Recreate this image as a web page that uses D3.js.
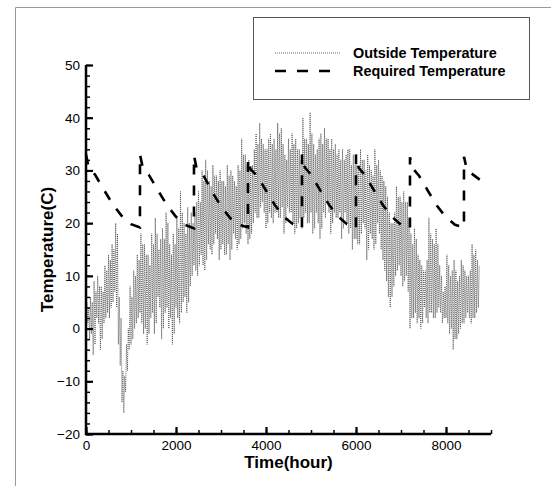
<!DOCTYPE html>
<html>
<head>
<meta charset="utf-8">
<script src="https://cdn.jsdelivr.net/npm/d3@7"></script>
<style>
  body { margin: 0; background: #fff; }
  svg { display: block; font-family: Arial, "Liberation Sans", sans-serif; }
</style>
</head>
<body>
<svg width="551" height="486"></svg>
<script>
"use strict";

// outside temperature, read as low/high swings, one swing per 40 hours (hour grid 0, 40, 80 ... 8720)
let outsideLow = [
  0, 1, -2, -1, -5, -3, 2, 1, -4, -2, 1, 2, 3, 2, 4, 5, 7, 4, -3, -7,
  -14, -16, -12, -8, -4, -3, -2, 0, 1, 2, 3, 1, -1, 0, -3, -1, 2, 3, -1, 1,
  6, 4, -2, 0, 3, 4, 0, 2, -3, -1, 4, 2, 1, 3, 5, 6, 3, 5, 8, 10,
  12, 11, 10, 12, 14, 12, 11, 13, 16, 15, 14, 16, 18, 17, 13, 15, 16, 14, 14, 16,
  13, 15, 18, 17, 15, 16, 17, 19, 20, 18, 16, 17, 18, 20, 22, 21, 21, 23, 24, 22,
  19, 20, 22, 21, 20, 22, 22, 21, 21, 23, 18, 20, 23, 22, 22, 20, 18, 19, 20, 21,
  19, 21, 22, 20, 20, 22, 18, 19, 22, 20, 17, 19, 22, 21, 24, 22, 18, 20, 22, 21,
  21, 22, 17, 19, 22, 20, 18, 19, 15, 17, 17, 16, 16, 18, 20, 19, 13, 15, 18, 17,
  15, 16, 20, 18, 15, 13, 11, 9, 6, 4, 6, 8, 10, 11, 12, 10, 8, 9, 10, 7,
  0, 2, 2, 3, 1, 2, 0, 1, 4, 2, 1, 3, 3, 2, 2, 3, 4, 3, 1, 2,
  2, 1, -1, 0, -4, -2, -2, -1, 0, 1, 1, 2, 3, 2, 1, 2, 2, 3, 4, 3
];
let outsideHigh = [
  5, 4, 6, 5, 9, 7, 10, 8, 8, 7, 12, 11, 14, 13, 16, 15, 20, 18, 6, 2,
  -8, -9, -3, 0, 8, 6, 11, 10, 14, 13, 18, 16, 16, 14, 14, 12, 18, 16, 21, 18,
  15, 17, 19, 17, 22, 20, 16, 14, 18, 16, 21, 19, 26, 22, 20, 18, 23, 20, 22, 20,
  22, 24, 26, 24, 30, 28, 32, 30, 28, 27, 31, 29, 29, 28, 30, 28, 28, 27, 31, 29,
  30, 29, 28, 27, 31, 30, 36, 33, 33, 31, 32, 30, 31, 34, 37, 35, 39, 36, 35, 34,
  34, 36, 37, 35, 36, 34, 39, 37, 38, 35, 33, 32, 36, 34, 37, 35, 36, 34, 34, 32,
  40, 36, 36, 35, 41, 37, 35, 33, 34, 36, 37, 35, 38, 36, 36, 34, 36, 34, 35, 33,
  34, 32, 34, 32, 33, 34, 34, 31, 33, 31, 31, 30, 34, 32, 32, 30, 33, 31, 30, 29,
  34, 31, 32, 30, 29, 28, 27, 25, 22, 20, 20, 22, 27, 25, 25, 24, 26, 24, 24, 21,
  18, 16, 19, 17, 14, 13, 12, 11, 11, 13, 21, 18, 17, 16, 19, 16, 12, 10, 7, 8,
  14, 12, 10, 11, 13, 11, 9, 10, 13, 12, 11, 10, 10, 11, 16, 14, 15, 13, 12, 11
];

// required temperature, sawtooth read point by point
let requiredHours = [
  0, 60, 200, 400, 600, 800, 1000, 1199,
  1200, 1260, 1400, 1600, 1800, 2000, 2200, 2399,
  2400, 2460, 2600, 2800, 3000, 3200, 3400, 3599,
  3600, 3660, 3800, 4000, 4200, 4400, 4600, 4799,
  4800, 4860, 5000, 5200, 5400, 5600, 5800, 5999,
  6000, 6060, 6200, 6400, 6600, 6800, 7000, 7199,
  7200, 7260, 7400, 7600, 7800, 8000, 8200, 8399,
  8400, 8460, 8600, 8760
];
let requiredTemps = [
  33, 30.5, 29.2, 26.3, 23.5, 21.3, 19.8, 19.2,
  33, 30.6, 29.1, 26.2, 23.4, 21.2, 19.7, 19.0,
  32.8, 30.3, 29.2, 26.0, 23.2, 21.0, 19.7, 19.2,
  32.2, 30.2, 29.0, 26.2, 23.4, 21.2, 19.8, 19.0,
  33, 30.6, 29.2, 26.3, 23.5, 21.3, 19.8, 19.0,
  33, 30.5, 29.1, 26.2, 23.4, 21.2, 19.7, 19.0,
  32.5, 30.4, 29.0, 26.1, 23.3, 21.1, 19.7, 19.2,
  32.6, 30.3, 29.2, 28.2
];

let xTicks = [0, 2000, 4000, 6000, 8000];
let yTicks = [-20, -10, 0, 10, 20, 30, 40, 50];
let legendNames = ["Outside Temperature", "Required Temperature"];

let svg = d3.select("svg");
let margin = {top: 65, right: 60, bottom: 52, left: 86};
let width = +svg.attr("width");
let height = +svg.attr("height");
let tickFont = "Arial, 'Liberation Sans', sans-serif";

// outer frame
svg.append("path")
  .attr("d", `M15.5,${height} V7.5 H${width}`)
  .attr("fill", "none")
  .attr("stroke", "#9a9a9a")
  .attr("stroke-width", 1);

let x = d3.scaleLinear([0, 9000], [margin.left, width - margin.right]);
let y = d3.scaleLinear([-20, 50], [height - margin.bottom, margin.top]);

let outsideHours = d3.range(0, 8760, 40);
let outsidePoints = [];
outsideHours.forEach((h, i) => {
  outsidePoints.push([h, outsideLow[i]]);
  outsidePoints.push([h + 20, outsideHigh[i]]);
});

let line = d3.line()
  .x(d => x(d[0]))
  .y(d => y(d[1]));

svg.append("path")
  .datum(outsidePoints)
  .attr("fill", "none")
  .attr("stroke", "#444")
  .attr("stroke-width", 0.8)
  .attr("stroke-dasharray", "1,1")
  .attr("d", line);

svg.append("path")
  .datum(requiredHours.map((h, i) => [h, requiredTemps[i]]))
  .attr("fill", "none")
  .attr("stroke", "#000")
  .attr("stroke-width", 2.6)
  .attr("stroke-dasharray", "10,11")
  .attr("d", line);

// minor ticks
svg.append("g")
  .attr("transform", `translate(0,${y(-20)})`)
  .call(d3.axisBottom(x).tickValues(d3.range(0, 9001, 500)).tickSize(-4).tickFormat(""))
  .call(g => g.select(".domain").remove())
  .call(g => g.selectAll("line").attr("stroke-width", 1.5));
svg.append("g")
  .attr("transform", `translate(${x(0)},0)`)
  .call(d3.axisLeft(y).tickValues(d3.range(-20, 51, 2)).tickSize(-4).tickFormat(""))
  .call(g => g.select(".domain").remove())
  .call(g => g.selectAll("line").attr("stroke-width", 1.5));

// major ticks and labels
svg.append("g")
  .attr("transform", `translate(0,${y(-20)})`)
  .call(d3.axisBottom(x).tickValues(xTicks).tickSize(-7).tickPadding(6).tickFormat(d3.format("d")))
  .call(g => g.select(".domain").remove())
  .call(g => g.selectAll("line").attr("stroke-width", 2.2))
  .call(g => g.selectAll("text").attr("font-size", 13.5).attr("font-family", tickFont).attr("fill", "#000"));
svg.append("g")
  .attr("transform", `translate(${x(0)},0)`)
  .call(d3.axisLeft(y).tickValues(yTicks).tickSize(-7).tickPadding(6))
  .call(g => g.select(".domain").remove())
  .call(g => g.selectAll("line").attr("stroke-width", 2.2))
  .call(g => g.selectAll("text").attr("font-size", 13.5).attr("font-family", tickFont).attr("fill", "#000"));

// axis lines
svg.append("path")
  .attr("d", `M${x(0)},${y(50)} V${y(-20)} H${x(9000)}`)
  .attr("fill", "none")
  .attr("stroke", "#000")
  .attr("stroke-width", 2.5);

svg.append("text")
  .attr("x", (x(0) + x(9000)) / 2)
  .attr("y", height - 18)
  .attr("text-anchor", "middle")
  .attr("font-weight", "bold")
  .attr("font-size", 17)
  .text("Time(hour)");

svg.append("text")
  .attr("transform", `translate(53,${(y(50) + y(-20)) / 2}) rotate(-90)`)
  .attr("text-anchor", "middle")
  .attr("font-weight", "bold")
  .attr("font-size", 17)
  .text("Temperature(C)");

// legend
let legend = svg.append("g");
legend.append("rect")
  .attr("x", 253.5).attr("y", 17.5)
  .attr("width", 276).attr("height", 82)
  .attr("fill", "#fff")
  .attr("stroke", "#555");
let legendStyles = [
  {stroke: "#444", width: 0.8, dash: "1,1"},
  {stroke: "#000", width: 2.6, dash: "11,11"}
];
legendNames.forEach((name, i) => {
  let ly = 53 + i * 18;
  legend.append("line")
    .attr("x1", 275).attr("x2", 341)
    .attr("y1", ly).attr("y2", ly)
    .attr("stroke", legendStyles[i].stroke)
    .attr("stroke-width", legendStyles[i].width)
    .attr("stroke-dasharray", legendStyles[i].dash);
  legend.append("text")
    .attr("x", 353).attr("y", ly)
    .attr("dy", "0.36em")
    .attr("font-weight", "bold")
    .attr("font-size", 14.4)
    .text(name);
});
</script>
</body>
</html>
